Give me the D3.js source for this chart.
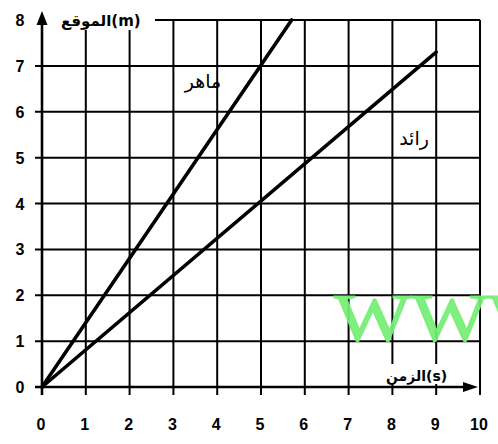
<!DOCTYPE html>
<html>
<head>
<meta charset="utf-8">
<script src="https://cdn.jsdelivr.net/npm/d3@7"></script>
<style>
  html, body { margin: 0; padding: 0; background: #fff; }
  svg { display: block; }
</style>
</head>
<body>
<svg id="chart" width="498" height="444"></svg>
<script>
// Time axis ticks (s) and position axis ticks (m)
const xTicks = [0, 1, 2, 3, 4, 5, 6, 7, 8, 9, 10];
const yTicks = [0, 1, 2, 3, 4, 5, 6, 7, 8];

// Position–time lines for the two runners
const maherTime = [0, 5.7];
const maherPos  = [0, 8];
const raedTime  = [0, 9];
const raedPos   = [0, 7.3];

const xTitle = "الزمن(s)";
const yTitle = "الموقع(m)";
const maherName = "ماهر";
const raedName = "رائد";
const watermark = "WWW";

const svg = d3.select("#chart");
const x = d3.scaleLinear().domain([0, 10]).range([42, 480]);
const y = d3.scaleLinear().domain([0, 8]).range([387, 20]);

const ink = "#000";
const grid = svg.append("g").attr("stroke", ink).attr("stroke-width", 2);

// horizontal grid lines (with small tick stubs on the left)
grid.selectAll("line.h").data(yTicks.filter(d => d > 0)).join("line")
  .attr("x1", d => d === 8 ? 155 : x(0) - 7)
  .attr("x2", x(10))
  .attr("y1", d => y(d)).attr("y2", d => y(d));

// vertical grid lines (extending below the time axis)
grid.selectAll("line.v").data(xTicks.filter(d => d > 0)).join("line")
  .attr("x1", d => x(d)).attr("x2", d => x(d))
  .attr("y1", d => d <= 2 ? y(7.78) : y(8))
  .attr("y2", y(0) + 8);

// axes with arrow heads
const axes = svg.append("g").attr("stroke", ink).attr("stroke-width", 2.6);
axes.append("line").attr("x1", x(0)).attr("x2", x(0)).attr("y1", y(0) + 8).attr("y2", 22);
axes.append("line").attr("x1", x(0) - 7).attr("x2", x(9.7)).attr("y1", y(0)).attr("y2", y(0));
svg.append("path").attr("fill", ink)
  .attr("d", `M${x(0)},11 L${x(0) - 5.5},25 L${x(0) + 5.5},25 Z`);
svg.append("path").attr("fill", ink)
  .attr("d", `M${x(10) - 2},${y(0)} L${x(10) - 17},${y(0) - 5} L${x(10) - 17},${y(0) + 5} Z`);

// tick labels
const tickFont = "'Liberation Sans', Arial, sans-serif";
svg.append("g").selectAll("text").data(yTicks).join("text")
  .attr("x", 20).attr("y", d => y(d) + 6)
  .attr("text-anchor", "middle")
  .attr("font-family", tickFont).attr("font-weight", "bold").attr("font-size", 16)
  .text(d => d);
svg.append("g").selectAll("text").data(xTicks).join("text")
  .attr("x", d => x(d) - 1).attr("y", 430)
  .attr("text-anchor", "middle")
  .attr("font-family", tickFont).attr("font-weight", "bold").attr("font-size", 16)
  .text(d => d);

// axis titles
const arabicFont = "'DejaVu Sans', sans-serif";
svg.append("text").attr("x", 61).attr("y", 26)
  .attr("font-family", arabicFont).attr("font-weight", "bold").attr("font-size", 15)
  .attr("direction", "ltr").text(yTitle);
svg.append("rect").attr("x", 382).attr("y", 364).attr("width", 78).attr("height", 20).attr("fill", "#fff");
svg.append("text").attr("x", 386).attr("y", 381)
  .attr("font-family", arabicFont).attr("font-weight", "bold").attr("font-size", 14)
  .attr("direction", "ltr").text(xTitle);

// runner lines
const line = d3.line().x(d => x(d[0])).y(d => y(d[1]));
const runners = [
  d3.zip(maherTime, maherPos),
  d3.zip(raedTime, raedPos)
];
svg.append("g").selectAll("path").data(runners).join("path")
  .attr("d", line)
  .attr("fill", "none").attr("stroke", ink).attr("stroke-width", 3.6)
  .attr("stroke-linecap", "round");

// runner names
svg.append("text").attr("x", 203).attr("y", 88)
  .attr("text-anchor", "middle")
  .attr("font-family", arabicFont).attr("font-size", 19).text(maherName);
svg.append("text").attr("x", 414).attr("y", 145)
  .attr("text-anchor", "middle")
  .attr("font-family", arabicFont).attr("font-size", 19).text(raedName);

// site watermark (runs off the right edge), stretched horizontally
svg.append("text").attr("x", 0).attr("y", 0)
  .attr("transform", "translate(334,340) scale(1.22,1)")
  .attr("font-family", "'Liberation Serif', 'Times New Roman', serif")
  .attr("font-size", 67)
  .attr("fill", "#74ee74").attr("fill-opacity", 0.92)
  .attr("stroke", "#74ee74").attr("stroke-width", 1.2).attr("stroke-opacity", 0.92)
  .text(watermark);
</script>
</body>
</html>
